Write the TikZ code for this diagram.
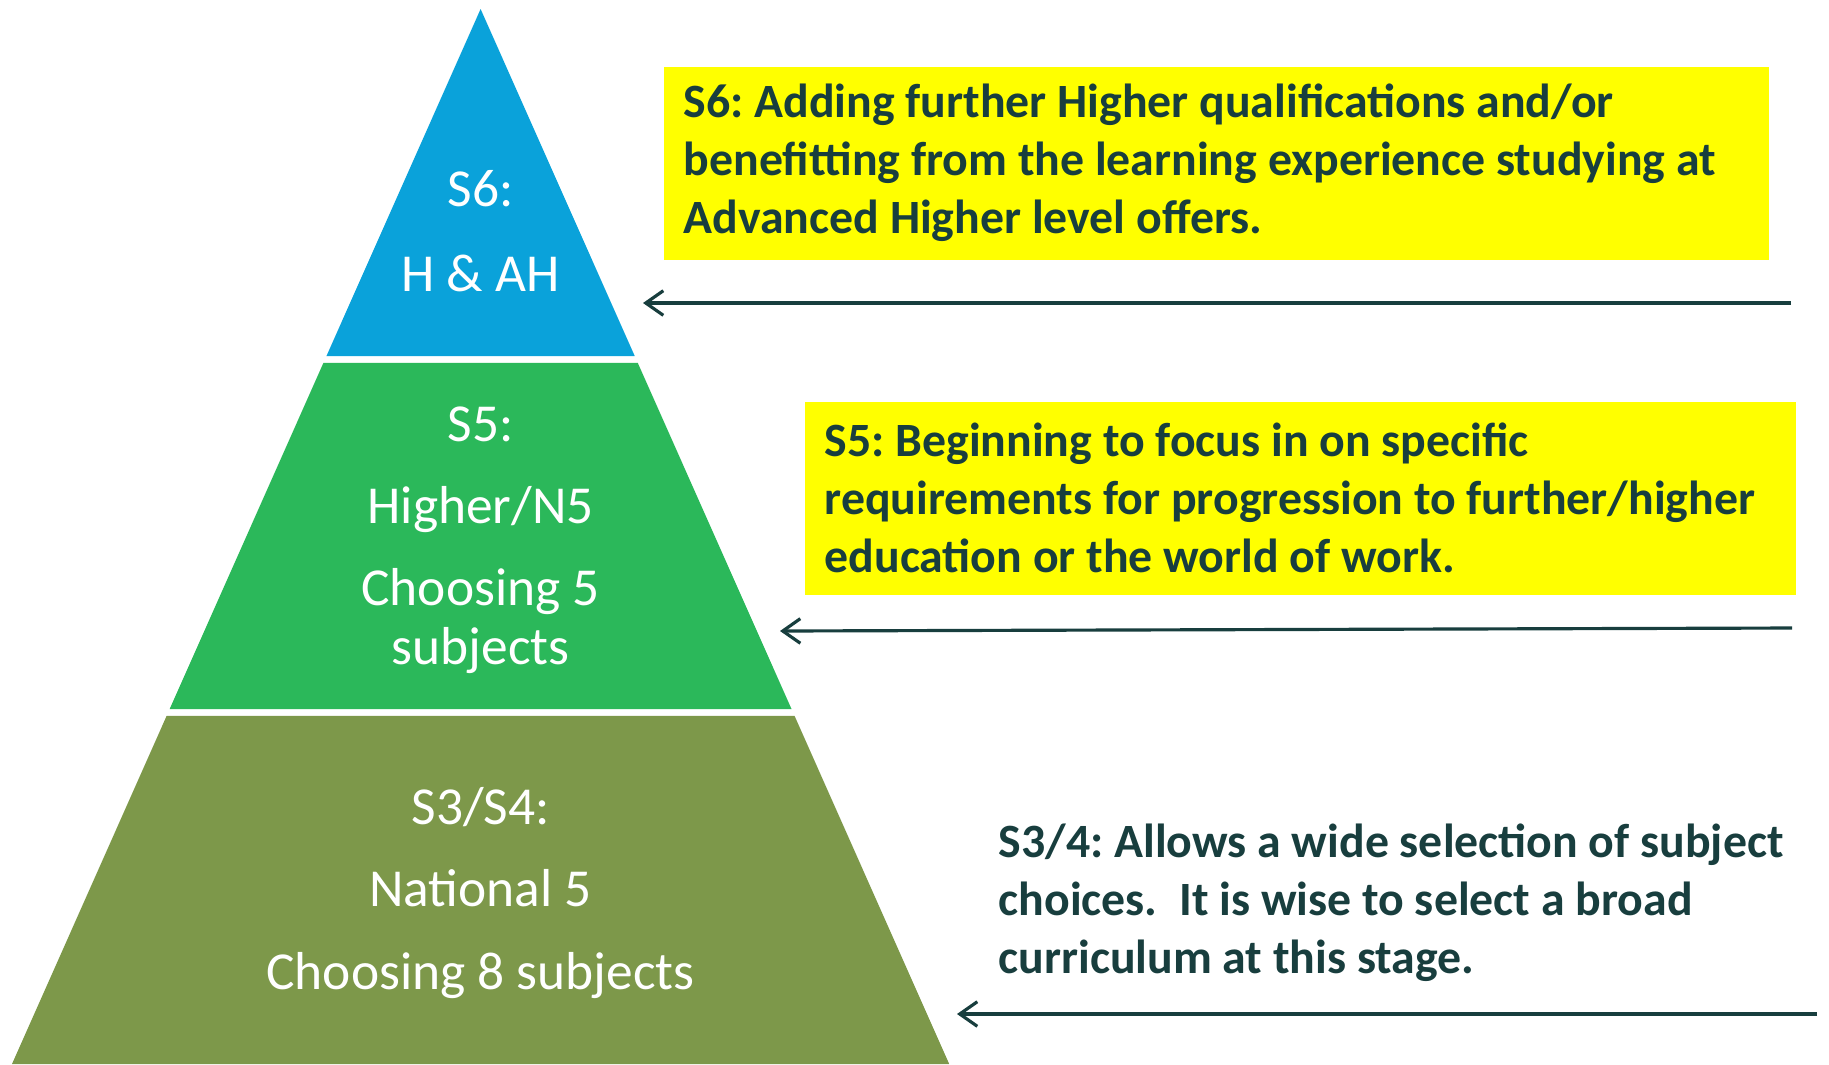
\documentclass[tikz,border=0pt]{standalone}
\usepackage{fontspec}
\setmainfont{Carlito}
\frenchspacing
\usetikzlibrary{calc, arrows.meta, positioning}
\definecolor{tb}{RGB}{10, 162, 218}
\definecolor{tg}{RGB}{43, 184, 90}
\definecolor{to}{RGB}{125, 152, 74}
\definecolor{hl}{RGB}{255, 255, 0}
\definecolor{ink}{RGB}{24, 62, 62}

\begin{document}
\begin{tikzpicture}[y=-1cm,
		note/.style={anchor=north west, fill=hl, inner xsep=0.2cm, inner ysep=0pt,
			minimum height=1.93cm, align=flush left, text=ink,
			font=\fontsize{13.6}{16.5}\selectfont\bfseries},
		label/.style={align=center, text=white, font=\fontsize{15.2}{16.6}\selectfont},
		link/.style={draw=ink, line width=0.9pt, -{Straight Barb[length=5pt, width=7pt]}}]
			\useasboundingbox (0, 0) rectangle (18.29, 10.64);
			
			% the pyramid
			\coordinate (p0) at (4.806, 0.09);
			\coordinate (pl) at (0.12, 10.64);
			\coordinate (pr) at (9.492, 10.64);
			
			\coordinate (l1) at ($(p0)!0.3289!(pl)$);
			\coordinate (r1) at ($(p0)!0.3289!(pr)$);
			\coordinate (l2) at ($(p0)!0.3355!(pl)$);
			\coordinate (r2) at ($(p0)!0.3355!(pr)$);
			\coordinate (l3) at ($(p0)!0.6635!(pl)$);
			\coordinate (r3) at ($(p0)!0.6635!(pr)$);
			\coordinate (l4) at ($(p0)!0.6701!(pl)$);
			\coordinate (r4) at ($(p0)!0.6701!(pr)$);
			
			\fill[tb] (p0) -- (r1) -- (l1) -- cycle;
			\fill[tg] (l2) -- (r2) -- (r3) -- (l3) -- cycle;
			\fill[to] (l4) -- (r4) -- (pr) -- (pl) -- cycle;
			
			\node[label] (s6) at (4.806, 2.31) {S6:\\[0.26cm] H \& AH};
			\node[label] (s5) at (4.806, 5.40) {S5:\\[0.24cm] Higher/N5\\[0.24cm] Choosing 5\\ subjects};
			\node[label] (s34) at (4.806, 8.93) {S3/S4:\\[0.24cm] National 5\\[0.24cm] Choosing 8 subjects};
			
			% notes
			\node[note, text width=10.65cm] (n6) at (6.63, 0.66)
				{S6: Adding further Higher qualifications and/or\\
				benefitting from the learning experience studying at\\
				Advanced Higher level offers.};
			\node[note, text width=9.51cm] (n5) at (8.04, 4.01)
				{S5: Beginning to focus in on specific\\
				requirements for progression to further/higher\\
				education or the world of work.};
			\node[note, fill=none, text width=8.2cm] (n34) at (9.78, 8.055)
				{S3/4: Allows a wide selection of subject\\
				choices.\ \ It is wise to select a broad\\
				curriculum at this stage.};
			
			% arrows
			\coordinate (a6s) at (17.91, 3.03);
			\coordinate (a6e) at (6.43, 3.03);
			\coordinate (a5s) at (17.92, 6.28);
			\coordinate (a5e) at (7.80, 6.31);
			\coordinate (a34s) at (18.17, 10.14);
			\coordinate (a34e) at (9.57, 10.14);
			
			\draw[link] (a6s) -- (a6e);
			\draw[link] (a5s) -- (a5e);
			\draw[link] (a34s) -- (a34e);
			
		\end{tikzpicture}
\end{document}
